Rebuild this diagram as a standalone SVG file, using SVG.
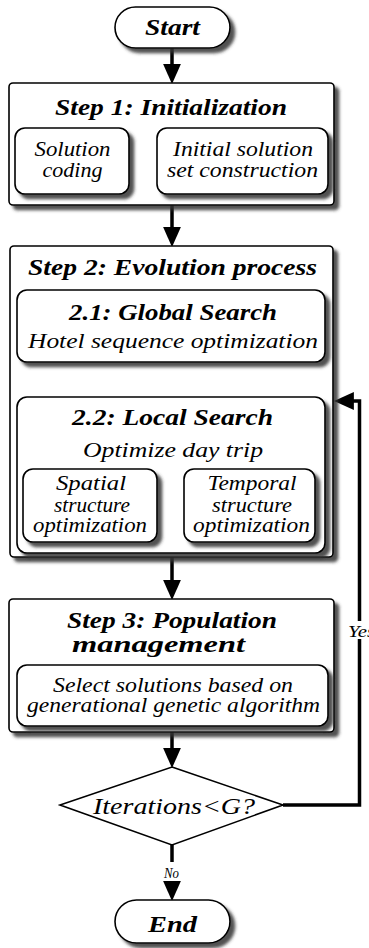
<svg xmlns="http://www.w3.org/2000/svg" width="369" height="948" viewBox="0 0 369 948" font-family="'Liberation Serif', 'Times New Roman', Times, serif">
<defs>
<filter id="sh" x="-10%" y="-10%" width="130%" height="130%">
<feDropShadow dx="4.5" dy="4.5" stdDeviation="1.8" flood-color="#333" flood-opacity="0.85"/>
</filter>
<marker id="ah" markerUnits="userSpaceOnUse" markerWidth="20" markerHeight="20" viewBox="0 0 18 18" refX="8" refY="9" orient="auto">
<path d="M0,1 L18,9 L0,17 z" fill="#000"/>
</marker>
<marker id="as" markerUnits="userSpaceOnUse" markerWidth="16" markerHeight="16" viewBox="0 0 14 14" refX="6" refY="7" orient="auto">
<path d="M0,1 L14,7 L0,13 z" fill="#000"/>
</marker>
</defs>
<style>
.box{fill:#fff;stroke:#000;stroke-width:1.6;filter:url(#sh)}
.t{font-style:italic;text-anchor:middle;fill:#000}
.b{font-weight:bold;font-size:23px}
.r{font-size:21.5px}
.lbl{font-size:15px}
.thick{fill:none;stroke:#000;stroke-width:3.5;marker-end:url(#ah)}
.thin{fill:none;stroke:#000;stroke-width:2.5;marker-end:url(#as)}
</style>

<g id="connectors">
<path class="thick" d="M172,48 V73"/>
<path class="thick" d="M172,205 V236"/>
<path class="thin" d="M129,163 H149"/>
<path class="thin" d="M172,362 V389"/>
<path class="thin" d="M157,507 H176"/>
<path class="thick" d="M172,557 V589"/>
<path class="thick" d="M172,732 V757"/>
<path class="thick" d="M172,845 V890"/>
<path class="thick" d="M283,805 H359.5 V401 H345"/>
<rect x="342" y="621" width="27" height="18" fill="#fff"/>
<text class="t" x="348" y="637" style="text-anchor:start;font-size:16px" textLength="27" lengthAdjust="spacingAndGlyphs">Yes</text>
<rect x="160" y="862" width="24" height="19" fill="#fff"/>
<text class="t lbl" x="171.5" y="878" textLength="15" lengthAdjust="spacingAndGlyphs">No</text>
</g>

<g id="start">
<rect class="box" x="115" y="7" width="115" height="41" rx="20.5"/>
<text class="t b" x="172.5" y="35" textLength="55" lengthAdjust="spacingAndGlyphs">Start</text>
</g>

<g id="step1">
<rect class="box" x="9" y="83" width="325" height="122" rx="4"/>
<text class="t b" x="171" y="115" textLength="232" lengthAdjust="spacingAndGlyphs">Step 1: Initialization</text>
</g>
<g id="solution-coding">
<rect class="box" x="15" y="128" width="114" height="66" rx="10"/>
<text class="t r" x="72.5" y="156" textLength="76" lengthAdjust="spacingAndGlyphs">Solution</text>
<text class="t r" x="72.5" y="176.5" textLength="60" lengthAdjust="spacingAndGlyphs">coding</text>
</g>
<g id="initial-solution">
<rect class="box" x="157" y="128" width="171" height="66" rx="10"/>
<text class="t r" x="243" y="156" textLength="140" lengthAdjust="spacingAndGlyphs">Initial solution</text>
<text class="t r" x="242.5" y="176.5" textLength="151" lengthAdjust="spacingAndGlyphs">set construction</text>
</g>

<g id="step2">
<rect class="box" x="10" y="246" width="323" height="311" rx="4"/>
<text class="t b" x="172.5" y="275" textLength="289" lengthAdjust="spacingAndGlyphs">Step 2: Evolution process</text>
</g>
<g id="global-search">
<rect class="box" x="17" y="290" width="308" height="72" rx="10"/>
<text class="t b" x="173" y="320" textLength="208" lengthAdjust="spacingAndGlyphs">2.1: Global Search</text>
<text class="t r" x="173" y="347.5" textLength="290" lengthAdjust="spacingAndGlyphs">Hotel sequence optimization</text>
</g>
<g id="local-search">
<rect class="box" x="17" y="397" width="308" height="156" rx="10"/>
<text class="t b" x="172.5" y="425" textLength="201" lengthAdjust="spacingAndGlyphs">2.2: Local Search</text>
<text class="t r" x="173" y="457" textLength="180" lengthAdjust="spacingAndGlyphs">Optimize day trip</text>
</g>
<g id="spatial">
<rect class="box" x="23" y="469" width="134" height="73" rx="10"/>
<text class="t r" x="91" y="490" textLength="70" lengthAdjust="spacingAndGlyphs">Spatial</text>
<text class="t r" x="92" y="512" textLength="76" lengthAdjust="spacingAndGlyphs">structure</text>
<text class="t r" x="90" y="532" textLength="114" lengthAdjust="spacingAndGlyphs">optimization</text>
</g>
<g id="temporal">
<rect class="box" x="184" y="469" width="131" height="73" rx="10"/>
<text class="t r" x="252" y="490" textLength="89" lengthAdjust="spacingAndGlyphs">Temporal</text>
<text class="t r" x="252" y="512" textLength="80" lengthAdjust="spacingAndGlyphs">structure</text>
<text class="t r" x="251.5" y="532" textLength="117" lengthAdjust="spacingAndGlyphs">optimization</text>
</g>

<g id="step3">
<rect class="box" x="9" y="599" width="325" height="133" rx="4"/>
<text class="t b" x="172" y="628" textLength="210" lengthAdjust="spacingAndGlyphs">Step 3: Population</text>
<text class="t b" x="158.5" y="652" textLength="173" lengthAdjust="spacingAndGlyphs">management</text>
</g>
<g id="select">
<rect class="box" x="17" y="665" width="311" height="61" rx="10"/>
<text class="t r" x="173" y="692" textLength="240" lengthAdjust="spacingAndGlyphs">Select solutions based on</text>
<text class="t r" x="173.5" y="712" textLength="293" lengthAdjust="spacingAndGlyphs">generational genetic algorithm</text>
</g>

<g id="decision">
<path d="M172,767 L283,805 L172,845 L60,805 Z" fill="#fff" stroke="#000" stroke-width="1.6"/>
<text class="t" x="174" y="814" style="font-size:24px" textLength="162" lengthAdjust="spacingAndGlyphs">Iterations&lt;G?</text>
</g>

<g id="end">
<rect class="box" x="115" y="900" width="115" height="43" rx="21.5"/>
<text class="t b" x="172.5" y="932" textLength="49" lengthAdjust="spacingAndGlyphs">End</text>
</g>
</svg>
